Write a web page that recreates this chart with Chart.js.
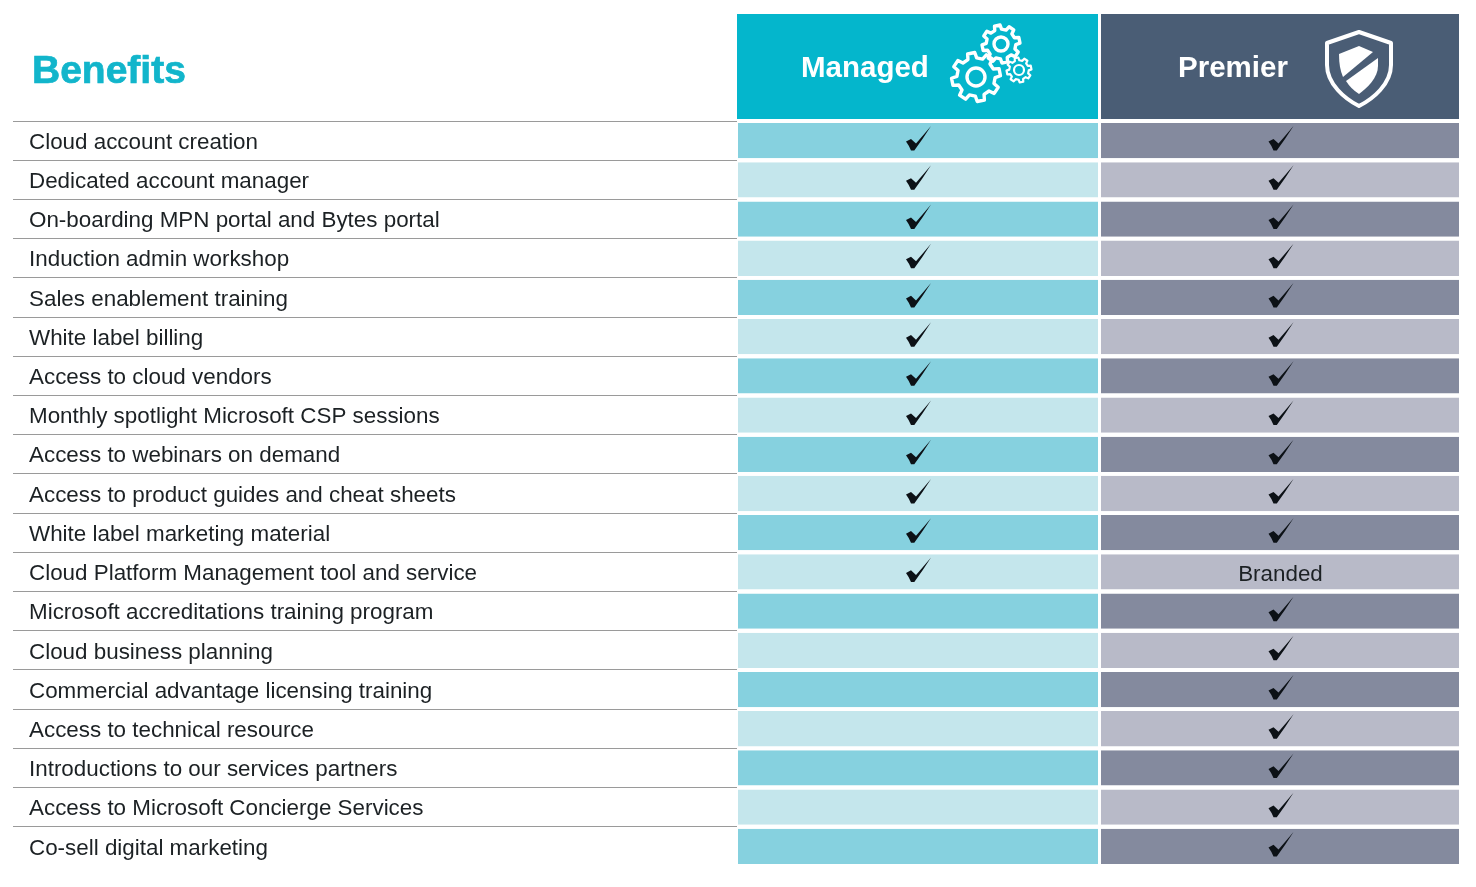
<!DOCTYPE html>
<html>
<head>
<meta charset="utf-8">
<title>Benefits</title>
<script src="https://cdn.jsdelivr.net/npm/chart.js@4"></script>
<style>
  html, body { margin: 0; padding: 0; background: #fff; }
  canvas { display: block; }
</style>
</head>
<body>
<canvas id="benefits" width="1476" height="887"></canvas>
<script>
const categories = [
  'Cloud account creation',
  'Dedicated account manager',
  'On-boarding MPN portal and Bytes portal',
  'Induction admin workshop',
  'Sales enablement training',
  'White label billing',
  'Access to cloud vendors',
  'Monthly spotlight Microsoft CSP sessions',
  'Access to webinars on demand',
  'Access to product guides and cheat sheets',
  'White label marketing material',
  'Cloud Platform Management tool and service',
  'Microsoft accreditations training program',
  'Cloud business planning',
  'Commercial advantage licensing training',
  'Access to technical resource',
  'Introductions to our services partners',
  'Access to Microsoft Concierge Services',
  'Co-sell digital marketing'
];
const columns = ['Managed', 'Premier'];
const managedCells = ['✓','✓','✓','✓','✓','✓','✓','✓','✓','✓','✓','✓','','','','','','',''];
const premierCells = ['✓','✓','✓','✓','✓','✓','✓','✓','✓','✓','✓','Branded','✓','✓','✓','✓','✓','✓','✓'];
const managedBars = [1,1,1,1,1,1,1,1,1,1,1,1,1,1,1,1,1,1,1];
const premierBars = [1,1,1,1,1,1,1,1,1,1,1,1,1,1,1,1,1,1,1];

const FONT = '"Liberation Sans", Arial, sans-serif';

function gear(ctx, cx, cy, outer, hole, lw) {
  const teeth = 8, inner = outer * 0.78;
  ctx.lineWidth = lw;
  ctx.beginPath();
  for (let i = 0; i < teeth; i++) {
    const a = (i / teeth) * Math.PI * 2 - 0.2, s = Math.PI * 2 / teeth;
    const pts = [[inner, a - s * 0.3], [outer, a - s * 0.19], [outer, a + s * 0.19], [inner, a + s * 0.3]];
    pts.forEach(([r, t], j) => {
      const x = cx + r * Math.cos(t), y = cy + r * Math.sin(t);
      if (i === 0 && j === 0) ctx.moveTo(x, y); else ctx.lineTo(x, y);
    });
  }
  ctx.closePath();
  ctx.stroke();
  ctx.beginPath();
  ctx.arc(cx, cy, hole, 0, Math.PI * 2);
  ctx.stroke();
}

function shield(ctx, cx, top) {
  ctx.strokeStyle = '#fff';
  ctx.fillStyle = '#fff';
  ctx.lineWidth = 4;
  ctx.lineJoin = 'round';
  ctx.beginPath();
  ctx.moveTo(cx, top);
  ctx.lineTo(cx + 32, top + 11);
  ctx.lineTo(cx + 32, top + 33);
  ctx.bezierCurveTo(cx + 32, top + 52, cx + 14, top + 67, cx, top + 74);
  ctx.bezierCurveTo(cx - 14, top + 67, cx - 32, top + 52, cx - 32, top + 33);
  ctx.lineTo(cx - 32, top + 11);
  ctx.closePath();
  ctx.stroke();
  ctx.beginPath();
  ctx.moveTo(cx - 20, top + 22);
  ctx.lineTo(cx, top + 14);
  ctx.lineTo(cx + 14, top + 20);
  ctx.lineTo(cx - 16, top + 45);
  ctx.quadraticCurveTo(cx - 20, top + 36, cx - 20, top + 22);
  ctx.closePath();
  ctx.fill();
  ctx.beginPath();
  ctx.moveTo(cx + 19, top + 26);
  ctx.lineTo(cx + 19, top + 34);
  ctx.bezierCurveTo(cx + 19, top + 46, cx + 8, top + 56, cx, top + 62);
  ctx.quadraticCurveTo(cx - 8, top + 57, cx - 13, top + 49);
  ctx.closePath();
  ctx.fill();
}

// tapered tick, same shape in every cell
function tick(ctx, cx, cy) {
  ctx.beginPath();
  ctx.moveTo(cx - 12.5, cy + 1);
  ctx.lineTo(cx - 7.5, cy - 1.6);
  ctx.lineTo(cx - 2.5, cy + 3);
  ctx.quadraticCurveTo(cx + 4.5, cy - 5, cx + 12.5, cy - 14.5);
  ctx.quadraticCurveTo(cx + 4, cy - 1, cx - 4.2, cy + 10);
  ctx.lineTo(cx - 7.5, cy + 10);
  ctx.quadraticCurveTo(cx - 9.5, cy + 5, cx - 12.5, cy + 1);
  ctx.closePath();
  ctx.fill();
}

const tablePlugin = {
  id: 'tablePlugin',
  afterDraw(chart) {
    const { ctx, scales: { x, y } } = chart;
    const left = [x.getPixelForValue(0), x.getPixelForValue(1) + 3];
    const right = [x.getPixelForValue(1), x.getPixelForValue(2)];
    const headColors = ['#04B6CC', '#4A5D75'];
    ctx.save();

    ctx.fillStyle = '#12B5CB';
    ctx.strokeStyle = '#12B5CB';
    ctx.lineWidth = 0.7;
    ctx.font = 'bold 39px ' + FONT;
    ctx.textAlign = 'left';
    ctx.textBaseline = 'middle';
    ctx.fillText('Benefits', 32, 72);
    ctx.strokeText('Benefits', 32, 72);

    columns.forEach((name, i) => {
      ctx.fillStyle = headColors[i];
      ctx.fillRect(left[i], 14, right[i] - left[i], 105);
    });
    ctx.fillStyle = '#fff';
    ctx.font = 'bold 29.5px ' + FONT;
    ctx.fillText(columns[0], 801, 69);
    ctx.fillText(columns[1], 1178, 69);

    ctx.strokeStyle = '#fff';
    ctx.lineJoin = 'round';
    gear(ctx, 976, 77, 24.5, 9, 3.4);
    gear(ctx, 1001, 44, 19, 7, 3.4);
    gear(ctx, 1019, 70, 12.5, 5, 2.2);
    shield(ctx, 1359, 32);

    [managedCells, premierCells].forEach((cells, c) => {
      const cx = (left[c] + right[c]) / 2;
      cells.forEach((cell, i) => {
        const cy = y.getPixelForValue(i);
        ctx.textAlign = 'center';
        ctx.fillStyle = '#0C1116';
        if (cell === '✓') {
          tick(ctx, cx + 1, cy);
        } else if (cell) {
          ctx.fillStyle = '#1C2124';
          ctx.font = '22.4px ' + FONT;
          ctx.fillText(cell, cx + 0.5, cy + 3);
        }
      });
    });
    ctx.restore();
  }
};

new Chart(document.getElementById('benefits'), {
  type: 'bar',
  plugins: [tablePlugin],
  data: {
    labels: categories,
    datasets: [
      {
        label: columns[0],
        data: managedBars,
        backgroundColor: categories.map((c, i) => (i % 2 ? '#C4E6EC' : '#86D1DF')),
        borderColor: '#fff',
        borderWidth: { left: 1, right: 0, top: 0, bottom: 0 },
        borderSkipped: false
      },
      {
        label: columns[1],
        data: premierBars,
        backgroundColor: categories.map((c, i) => (i % 2 ? '#B8BAC8' : '#848A9E')),
        borderColor: '#fff',
        borderWidth: { left: 3, right: 0, top: 0, bottom: 0 },
        borderSkipped: false
      }
    ]
  },
  options: {
    indexAxis: 'y',
    responsive: false,
    animation: false,
    devicePixelRatio: 1,
    layout: { padding: { left: 29, top: 121, right: 17, bottom: 21 } },
    barPercentage: 0.9,
    categoryPercentage: 1,
    plugins: { legend: { display: false }, tooltip: { enabled: false } },
    scales: {
      x: { stacked: true, display: false, min: 0, max: 2 },
      y: {
        stacked: true,
        afterFit(scale) { scale.width = 708; },
        border: { display: false },
        grid: {
          drawOnChartArea: false,
          tickLength: 724,
          lineWidth: 1,
          color: (c) => (c.type === 'tick' ? '#9A9A9A' : 'rgba(0,0,0,0)')
        },
        ticks: {
          autoSkip: false,
          crossAlign: 'far',
          padding: 0,
          labelOffset: 2,
          color: '#1C2124',
          font: { family: FONT, size: 22.4 }
        }
      }
    }
  }
});
</script>
</body>
</html>
